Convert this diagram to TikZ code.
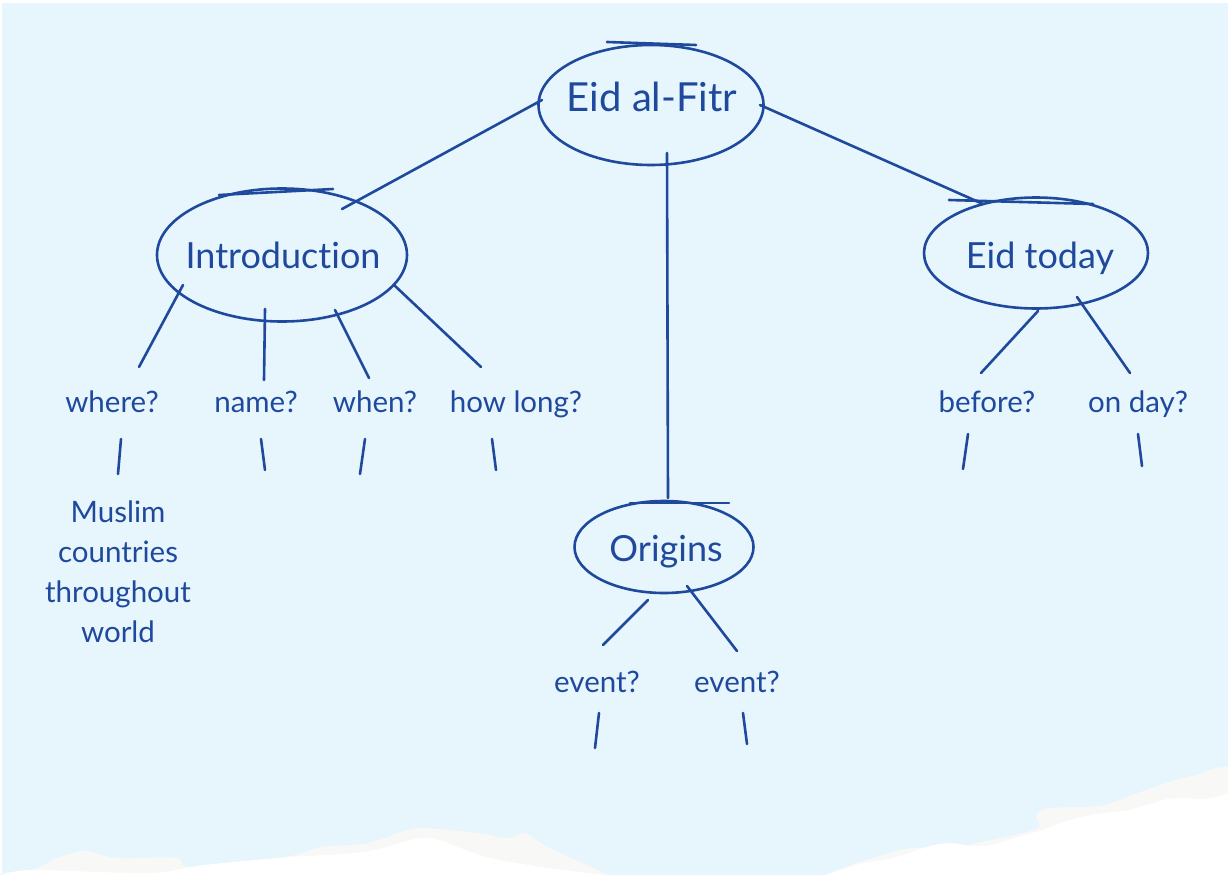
\documentclass[tikz,border=0pt]{standalone}
\usepackage{fontspec}
\setmainfont{Lato}[Ligatures={NoCommon,NoDiscretionary,NoRare}]
\usetikzlibrary{shapes.geometric,calc}
\definecolor{ink}{RGB}{30,73,157}
\definecolor{sky}{RGB}{231,245,253}
\definecolor{paper}{RGB}{248,248,246}
\tikzset{
  bubble/.style={ellipse,draw=ink,line width=2.6pt,inner sep=0pt},
  ttl/.style={text=ink,anchor=base,inner sep=0pt,font=\fontsize{36}{40}\selectfont},
  lbl/.style={text=ink,anchor=base,inner sep=0pt,font=\fontsize{29.5}{34}\selectfont},
  link/.style={draw=ink,line width=2.6pt,line cap=round},
}
\begin{document}
\begin{tikzpicture}[x=1pt,y=-1pt]
\useasboundingbox (0,0) rectangle (1228,875);
\fill[white] (0,0) rectangle (1228,875);
\fill[sky] (2,3) rectangle (1228,875);
% torn paper at the bottom
\fill[paper] plot[smooth,tension=0.5] coordinates {(0,876) (2,873) (35,869) (59,857) (86,851) (117,858) (176,858) (192,867) (290,856) (321,847) (368,843) (407,830) (427,828) (478,833) (509,838) (525,833) (548,847) (611,876)} -- cycle;
\fill[white] plot[smooth,tension=0.5] coordinates {(0,876) (31,870) (149,873) (204,865) (290,857) (364,852) (415,839) (439,840) (486,857) (548,868) (611,876)} -- cycle;
\fill[paper] plot[smooth,tension=0.5] coordinates {(822,876) (860,862) (893,852) (912,848) (935,848) (960,846) (1000,838) (1038,828) (1036,815) (1050,808) (1080,807) (1105,805) (1140,792) (1175,780) (1200,774) (1215,768) (1229,767)} -- (1229,876) -- cycle;
\fill[white] plot[smooth,tension=0.5] coordinates {(822,876) (860,864) (893,858) (930,846) (951,843) (970,846) (991,845) (1015,838) (1042,830) (1070,820) (1096,814) (1128,810) (1150,804) (1167,799) (1185,798) (1200,799) (1215,797) (1229,793)} -- (1229,876) -- cycle;

% bubbles
\node[bubble,minimum width=225pt,minimum height=120pt] (top) at (651,105) {};
\node[bubble,minimum width=250pt,minimum height=133pt] (intro) at (282,255) {};
\node[bubble,minimum width=224pt,minimum height=111pt] (today) at (1036,253) {};
\node[bubble,minimum width=179pt,minimum height=92pt] (orig) at (664,547) {};
\draw[link] ($(top)+(-44,-63)$) -- ($(top)+(45,-60)$);
\draw[link] ($(intro)+(-63,-60)$) -- ($(intro)+(51,-66)$);
\draw[link] ($(today)+(-87,-53)$) -- ($(today)+(57,-49)$);
\draw[link] ($(orig)+(-34,-44)$) -- ($(orig)+(65,-44)$);

% titles
\node[ttl,font=\fontsize{40}{44}\selectfont] (topT) at (652,111) {Eid al-Fitr};
\node[ttl] (introT) at (283,268) {Introduction};
\node[ttl] (todayT) at (1040,268) {Eid today};
\node[ttl] (origT) at (666,561) {Origins};

% labels
\node[lbl] (where) at (112,412) {where?};
\node[lbl] (name) at (256,412) {name?};
\node[lbl] (when) at (375,412) {when?};
\node[lbl] (howlong) at (516,412) {how long?};
\node[lbl] (before) at (987,412) {before?};
\node[lbl] (onday) at (1138,412) {on day?};
\node[lbl] (ev1) at (597,692) {event?};
\node[lbl] (ev2) at (737,692) {event?};
\node[text=ink,inner sep=0pt,align=center,font=\fontsize{29.5}{40}\selectfont] (muslim) at (118,572) {Muslim\\countries\\throughout\\world};

% connectors
\draw[link] ($(top)+(-109,-5)$) -- ($(intro)+(60,-46)$);
\draw[link] ($(top)+(109,0)$) -- ($(today)+(-53,-49)$);
\draw[link] ($(top)+(16,48)$) -- ($(orig)+(4,-49)$);
\draw[link] ($(intro)+(-99,30)$) -- ($(where.base)+(27,-45)$);
\draw[link] ($(intro)+(-17,54)$) -- ($(name.base)+(8,-32)$);
\draw[link] ($(intro)+(53,55)$) -- ($(when.base)+(-6,-34)$);
\draw[link] ($(intro)+(112,30)$) -- ($(howlong.base)+(-35,-45)$);
\draw[link] ($(where.base)+(9,27)$) -- ($(where.base)+(6,62)$);
\draw[link] ($(name.base)+(5,27)$) -- ($(name.base)+(9,58)$);
\draw[link] ($(when.base)+(-10,27)$) -- ($(when.base)+(-15,62)$);
\draw[link] ($(howlong.base)+(-24,27)$) -- ($(howlong.base)+(-20,58)$);
\draw[link] ($(today)+(2,58)$) -- ($(before.base)+(-6,-39)$);
\draw[link] ($(today)+(41,44)$) -- ($(onday.base)+(-8,-39)$);
\draw[link] ($(before.base)+(-19,22)$) -- ($(before.base)+(-24,57)$);
\draw[link] ($(onday.base)+(0,22)$) -- ($(onday.base)+(4,54)$);
\draw[link] ($(orig)+(-16,53)$) -- ($(ev1.base)+(6,-47)$);
\draw[link] ($(orig)+(23,39)$) -- ($(ev2.base)+(0,-41)$);
\draw[link] ($(ev1.base)+(2,21)$) -- ($(ev1.base)+(-2,56)$);
\draw[link] ($(ev2.base)+(6,21)$) -- ($(ev2.base)+(10,52)$);
\end{tikzpicture}
\end{document}
